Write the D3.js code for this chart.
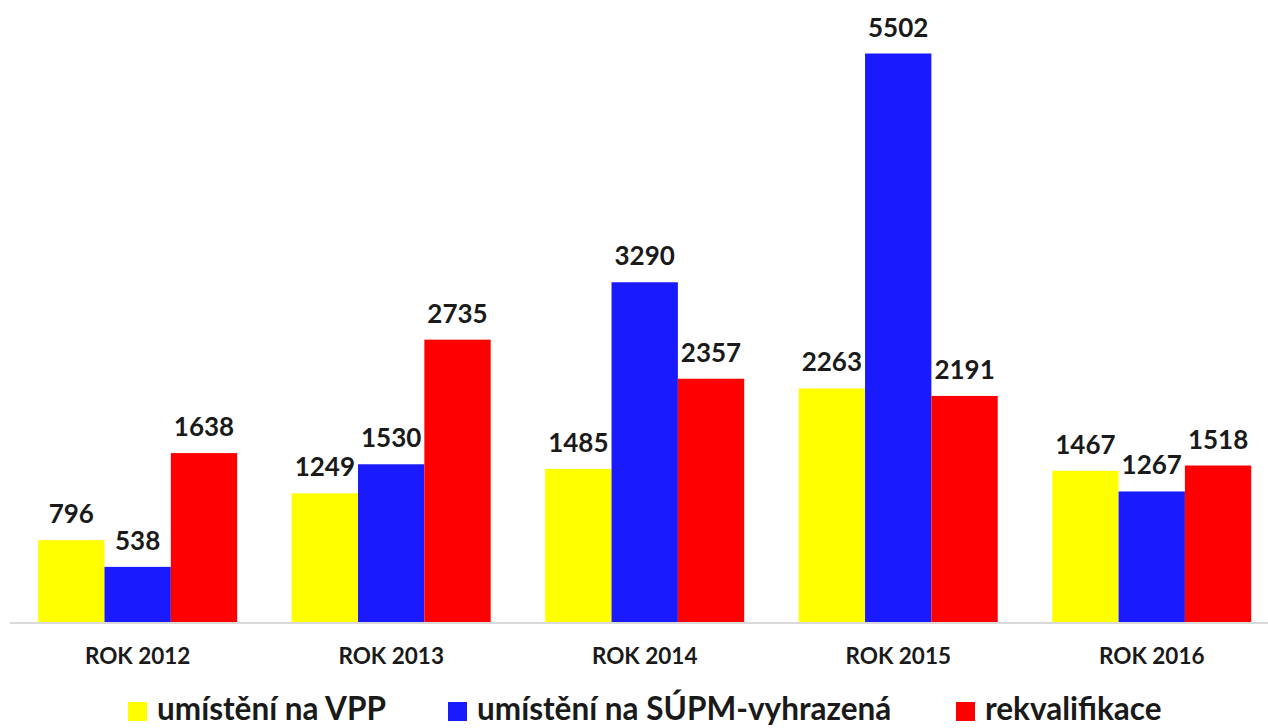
<!DOCTYPE html>
<html>
<head>
<meta charset="utf-8">
<script src="https://cdn.jsdelivr.net/npm/d3@7"></script>
<style>
  body { margin: 0; background: #fff; }
  svg { display: block; font-family: Lato, "Open Sans", sans-serif; font-weight: bold; }
</style>
</head>
<body>
<svg id="chart" width="1268" height="728"></svg>
<script>
// chart data
const years = ["ROK 2012", "ROK 2013", "ROK 2014", "ROK 2015", "ROK 2016"];
const seriesNames = ["umístění na VPP", "umístění na SÚPM-vyhrazená", "rekvalifikace"];
const vpp = [796, 1249, 1485, 2263, 1467];
const supm = [538, 1530, 3290, 5502, 1267];
const rekval = [1638, 2735, 2357, 2191, 1518];
const colors = ["#ffff00", "#1a1aff", "#ff0000"];

const allSeries = [vpp, supm, rekval];
const rows = years.map((y, i) => ({
    year: y,
    values: allSeries.map((s, k) => ({ key: seriesNames[k], value: s[i], color: colors[k] }))
}));

const svg = d3.select("#chart");
const baseY = 622.5;

const x0 = d3.scaleBand()
    .domain(years)
    .range([10.9, 1278.5])
    .paddingInner(0.215)
    .paddingOuter(0.1075);

const x1 = d3.scaleBand()
    .domain(seriesNames)
    .range([0, x0.bandwidth()]);

const y = d3.scaleLinear()
    .domain([0, 6000])
    .range([baseY, 2]);

// bars
const groups = svg.append("g")
    .selectAll("g")
    .data(rows)
    .join("g")
    .attr("transform", d => `translate(${x0(d.year)},0)`);

groups.selectAll("rect")
    .data(d => d.values)
    .join("rect")
    .attr("x", d => x1(d.key))
    .attr("y", d => y(d.value))
    .attr("width", x1.bandwidth())
    .attr("height", d => baseY - y(d.value))
    .attr("fill", d => d.color);

// value labels
groups.selectAll("text")
    .data(d => d.values)
    .join("text")
    .attr("x", d => x1(d.key) + x1.bandwidth() / 2)
    .attr("y", d => y(d.value) - 17)
    .attr("text-anchor", "middle")
    .attr("font-size", 26)
    .attr("fill", "#1a1a1a")
    .text(d => d.value);

// axis line
svg.append("line")
    .attr("x1", 10).attr("x2", 1268)
    .attr("y1", baseY + 0.5).attr("y2", baseY + 0.5)
    .attr("stroke", "#d9d9d9")
    .attr("stroke-width", 2);

// category labels
const xAxis = svg.append("g")
    .attr("transform", `translate(0,${baseY})`)
    .call(d3.axisBottom(x0).tickSize(0).tickPadding(26));
xAxis.select(".domain").remove();
xAxis.selectAll("text")
    .attr("font-size", 22.5)
    .attr("font-family", "Lato, sans-serif")
    .attr("fill", "#1a1a1a");

// legend
const legendX = [128, 448, 956];
const legend = svg.append("g")
    .selectAll("g")
    .data(seriesNames)
    .join("g")
    .attr("transform", (d, i) => `translate(${legendX[i]},702)`);

legend.append("rect")
    .attr("width", 19)
    .attr("height", 19)
    .attr("fill", (d, i) => colors[i]);

legend.append("text")
    .attr("x", 29)
    .attr("y", 18)
    .attr("font-size", 31.5)
    .attr("fill", "#1a1a1a")
    .text(d => d);
</script>
</body>
</html>
